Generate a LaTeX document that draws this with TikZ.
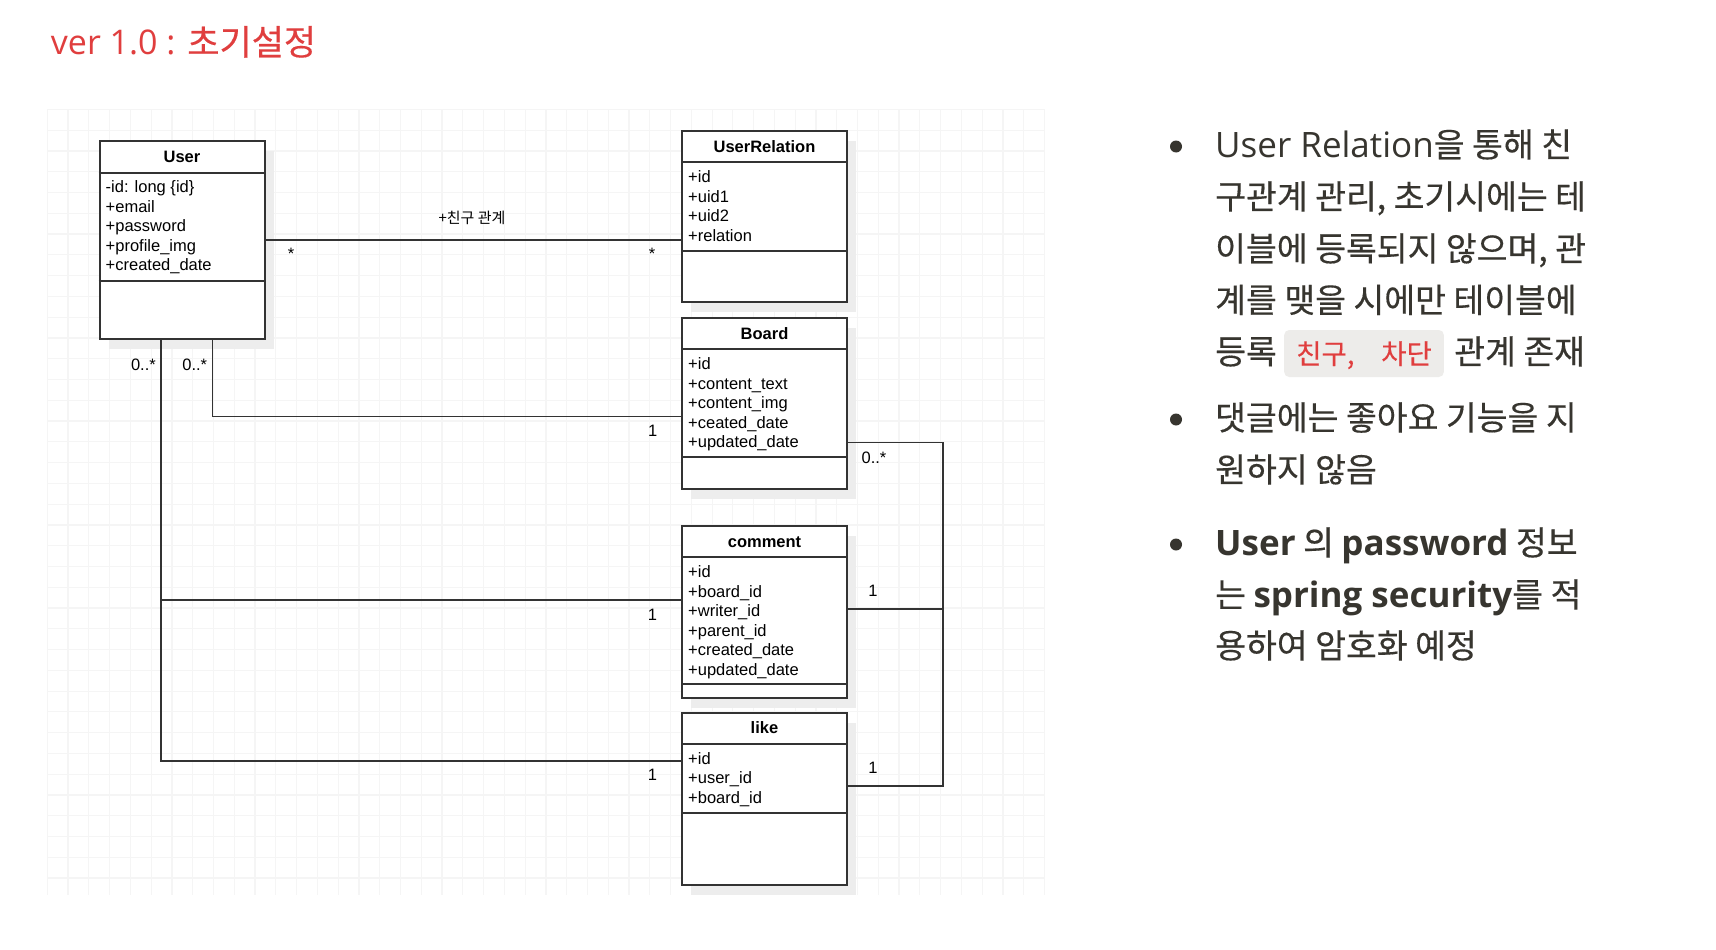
\documentclass[tikz,border=0pt]{standalone}
\usepackage{fontspec}
\setmainfont{Liberation Sans}
\newfontfamily\kr{Noto Sans CJK KR}[FakeBold=0.4]
\newfontfamily\umlkr{Noto Sans CJK KR}
\newfontfamily\lat{Open Sans}
\usetikzlibrary{calc,shadows}

\definecolor{notionred}{RGB}{224,62,62}
\definecolor{notiontext}{RGB}{55,53,47}
\definecolor{codebg}{RGB}{237,236,234}
\definecolor{gridgray}{RGB}{245,245,245}
\definecolor{umlline}{RGB}{51,51,51}

\newcommand{\eng}[1]{{\lat\fontsize{35}{52}\selectfont #1}}
\newcommand{\engbf}[1]{{\lat\bfseries\fontsize{35}{52}\selectfont #1}}

% name, left, top, divider, height, title, attributes
\newcommand{\umlclass}[7]{
  \node[classbox, minimum height=#5pt, anchor=north west] (#1) at (#2,#3) {};
  \node[classtitle] (#1-title) at ($(#1.north)+(0,16.2)$) {#6};
  \draw[classline] ($(#1.north west)+(0,32.3)$) -- ($(#1.north east)+(0,32.3)$);
  \draw[classline] ($(#1.north west)+(0,#4)$) -- ($(#1.north east)+(0,#4)$);
  \foreach \a [count=\i] in {#7}
    \node[attr] (#1-a\i) at ($(#1.north west)+(7,33+\i*19.5)$) {\a};
}

\begin{document}
\begin{tikzpicture}[x=1pt, y=-1pt,
  classbox/.style={draw=umlline, line width=2pt, fill=white, minimum width=165pt, inner sep=0pt,
    drop shadow={shadow xshift=9pt, shadow yshift=-10pt, fill=black!7, opacity=1}},
  classline/.style={draw=umlline, line width=2pt},
  classtitle/.style={font=\bfseries\fontsize{16.5}{19}\selectfont, text height=11.8pt, text depth=0pt, inner sep=0pt},
  attr/.style={font=\fontsize{16.5}{19.5}\selectfont, anchor=base west, inner sep=0pt},
  conn/.style={draw=umlline, line width=1.5pt},
  mult/.style={font=\fontsize{16.5}{19}\selectfont, inner sep=0pt, anchor=base},
  gridline/.style={draw=gridgray, line width=1.2pt},
  body/.style={font=\kr\fontsize{33.5}{52}\selectfont, text=notiontext, anchor=base west, inner sep=0pt},
  dot/.style={circle, fill=notiontext, minimum size=12pt, inner sep=0pt},
  codebox/.style={fill=codebg, rounded corners=5pt, text=notionred, font=\kr\fontsize{27.5}{30}\selectfont,
    inner xsep=12pt, inner ysep=0pt, text height=34pt, text depth=13pt, anchor=base west}]

  \fill[white] (0,0) rectangle (1716,950);
  \useasboundingbox (0,0) rectangle (1716,950);

  % title
  \node[font=\kr\fontsize{35}{40}\selectfont, text=notionred, anchor=base west, inner sep=0pt] (title) at (50.7,55)
    {{\lat\fontsize{34}{40}\selectfont ver 1.0 : }초기설정};

  % grid
  \foreach \g in {0,...,48}
    \draw[gridline] ({47.3+\g*20.775},109.4) -- ({47.3+\g*20.775},895);
  \foreach \g in {0,...,37}
    \draw[gridline] (47.3,{109.4+\g*20.775}) -- (1045,{109.4+\g*20.775});

  % classes
  \umlclass{user}{98.5}{140.3}{140.4}{197.4}{User}{-id: long \{id\}, +email, +password, +profile\_img, +created\_date}
  \umlclass{urel}{681}{130}{120.7}{171.3}{UserRelation}{+id, +uid1, +uid2, +relation}
  \umlclass{board}{681}{317}{140.3}{171.3}{Board}{+id, +content\_text, +content\_img, +ceated\_date, +updated\_date}
  \umlclass{comment}{681}{525}{159.3}{171.7}{comment}{+id, +board\_id, +writer\_id, +parent\_id, +created\_date, +updated\_date}
  \umlclass{like}{681}{711.7}{101.6}{172.3}{like}{+id, +user\_id, +board\_id}

  % connectors
  \draw[conn] (user.east) -- (user.east -| urel.west);
  \draw[conn] ($(user.south)+(30.5,0)$) |- ($(board.west)+(0,12.6)$);
  \coordinate (ubus) at ($(user.south)+(-21.25,0)$);
  \coordinate (cl) at ($(comment.west)+(0,-11.8)$);
  \draw[conn] (ubus) |- ($(like.west)+(0,-37.8)$);
  \draw[conn] (cl) -- (cl -| ubus);
  \coordinate (br) at ($(board.east)+(0,39)$);
  \coordinate (rbus) at ($(br)+(95,0)$);
  \coordinate (cr) at ($(comment.east)+(0,-2.8)$);
  \coordinate (lr) at ($(like.east)+(0,-12.8)$);
  \draw[conn] (br) -- (rbus) |- (lr);
  \draw[conn] (cr) -- (cr -| rbus);

  % labels
  \node[font=\umlkr\fontsize{15}{18}\selectfont, inner sep=0pt] (rel) at (472,218) {+친구 관계};
  \node[mult] (m1) at (291,259.5) {*};
  \node[mult] (m2) at (652,259.5) {*};
  \node[mult, anchor=base east] (m3) at (156,370.7) {0..*};
  \node[mult, anchor=base east] (m4) at (207.3,370.7) {0..*};
  \node[mult] (m5) at (652.8,436.7) {1};
  \node[mult] (m6) at (874,463.3) {0..*};
  \node[mult] (m7) at (652.5,620) {1};
  \node[mult] (m8) at (873,596) {1};
  \node[mult] (m9) at (652.5,780.7) {1};
  \node[mult] (m10) at (873,773.3) {1};

  % notes
  \node[dot] (d1) at (1176,146.5) {};
  \node[body] (t1) at (1215,157) {\eng{User Relation}을 통해 친};
  \node[body] (t2) at (1215,209) {구관계 관리, 초기시에는 테};
  \node[body] (t3) at (1215,261) {이블에 등록되지 않으며, 관};
  \node[body] (t4) at (1215,312.5) {계를 맺을 시에만 테이블에};
  \node[body] (t5) at (1215,364) {등록};
  \node[codebox] (hl) at (1284,364) {친구, \hspace{0.75em}차단};
  \node[body] (t6) at ($(hl.base east)+(10,0)$) {관계 존재};

  \node[dot] (d2) at (1176,419.5) {};
  \node[body] (t7) at (1215,430) {댓글에는 좋아요 기능을 지};
  \node[body] (t8) at (1215,482) {원하지 않음};

  \node[dot] (d3) at (1176,544.5) {};
  \node[body] (t9) at (1215,555) {\engbf{User} 의 \engbf{password} 정보};
  \node[body] (t10) at (1215,607) {는 \engbf{spring security}를 적};
  \node[body] (t11) at (1215,658) {용하여 암호화 예정};
\end{tikzpicture}
\end{document}
